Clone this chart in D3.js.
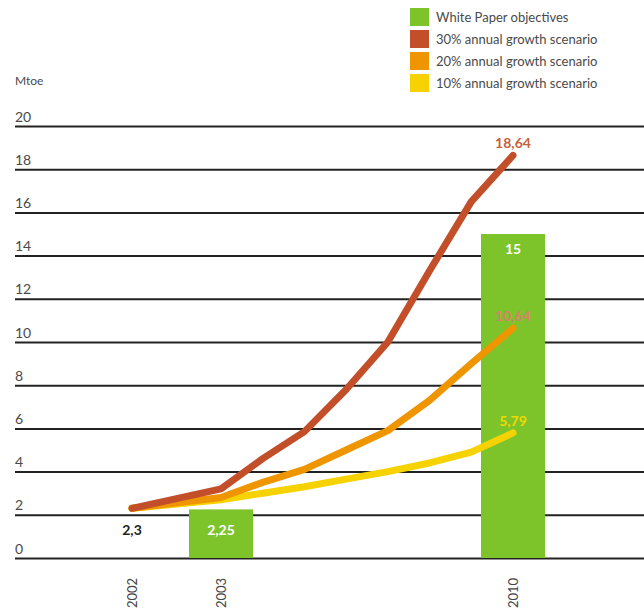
<!DOCTYPE html>
<html>
<head>
<meta charset="utf-8">
<script src="https://cdn.jsdelivr.net/npm/d3@7"></script>
<style>
  html, body { margin: 0; padding: 0; background: #fff; }
  svg { display: block; font-family: Lato, "Open Sans", sans-serif; }
</style>
</head>
<body>
<svg id="chart" width="644" height="613"></svg>
<script>
// Years along the axis and the three growth scenarios (Mtoe)
const years = [2002, 2003, 2004, 2005, 2006, 2007, 2008, 2009, 2010];
const growth30 = [2.3, 3.2, 4.6, 5.85, 7.8, 10.0, 13.3, 16.5, 18.64];
const growth20 = [2.3, 2.8, 3.5, 4.1, 5.0, 5.9, 7.3, 9.0, 10.64];
const growth10 = [2.3, 2.7, 3.0, 3.3, 3.65, 4.0, 4.4, 4.9, 5.79];

// White Paper objectives (bars)
const objectiveYears = [2003, 2010];
const objectiveValues = [2.25, 15];
const objectiveLabels = ["2,25", "15"];

// Axis ticks and labels
const yTicks = [0, 2, 4, 6, 8, 10, 12, 14, 16, 18, 20];
const xTickYears = [2002, 2003, 2010];
const endLabels = ["18,64", "10,64", "5,79"];
const startLabel = "2,3";

const legendLabels = [
  "White Paper objectives",
  "30% annual growth scenario",
  "20% annual growth scenario",
  "10% annual growth scenario"
];
const colors = {
  green: "#7dc42b",
  red: "#c24f29",
  orange: "#ee9500",
  yellow: "#f6d300"
};

const svg = d3.select("#chart");

const y = d3.scaleLinear().domain([0, 20]).range([558, 126]);
const x = d3.scaleLinear().domain([2002, 2003, 2010]).range([132, 221, 513]);

// Horizontal gridlines with value labels sitting on top of each line
const yAxis = d3.axisRight(y).tickValues(yTicks).tickSize(629).tickFormat(d3.format("d"));
const gy = svg.append("g").attr("transform", "translate(15,0)").call(yAxis);
gy.select(".domain").remove();
gy.selectAll(".tick line").attr("stroke", "#222").attr("stroke-width", 2);
gy.selectAll(".tick text")
  .attr("x", 0).attr("dy", -5).attr("text-anchor", "start")
  .attr("font-size", 14).attr("fill", "#4a4a4a")
  .attr("font-family", "Lato, sans-serif");

svg.append("text").attr("x", 15).attr("y", 85)
  .attr("font-size", 12).attr("fill", "#4a4a4a").text("Mtoe");

// Objective bars
const barW = 64;
svg.selectAll("rect.bar").data(objectiveValues).enter().append("rect")
  .attr("class", "bar")
  .attr("x", (d, i) => x(objectiveYears[i]) - barW / 2)
  .attr("y", d => y(d))
  .attr("width", barW)
  .attr("height", d => y(0) - y(d))
  .attr("fill", colors.green);

// Scenario lines
const line = d3.line().x((d, i) => x(years[i])).y(d => y(d));
[[growth10, colors.yellow], [growth20, colors.orange], [growth30, colors.red]].forEach(([vals, c]) => {
  svg.append("path").datum(vals)
    .attr("d", line)
    .attr("fill", "none")
    .attr("stroke", c)
    .attr("stroke-width", 7)
    .attr("stroke-linejoin", "round")
    .attr("stroke-linecap", "round");
});

// Value labels at the 2010 end of each line
const last = years.length - 1;
const endSeries = [
  [growth30[last], endLabels[0], "#c8603a"],
  [growth20[last], endLabels[1], "#d9826a"],
  [growth10[last], endLabels[2], "#f3d800"]
];
endSeries.forEach(([v, t, c]) => {
  svg.append("text")
    .attr("x", x(2010)).attr("y", y(v) - 7)
    .attr("text-anchor", "middle")
    .attr("font-size", 14).attr("font-weight", 700)
    .attr("fill", c).text(t);
});

// Bar value labels
objectiveValues.forEach((v, i) => {
  const ty = i === 0 ? y(0) - 23 : y(v) + 20;
  svg.append("text")
    .attr("x", x(objectiveYears[i])).attr("y", ty)
    .attr("text-anchor", "middle")
    .attr("font-size", 14).attr("font-weight", 700)
    .attr("fill", "#fff").text(objectiveLabels[i]);
});

// Starting value label
svg.append("text")
  .attr("x", x(2002)).attr("y", y(0) - 23)
  .attr("text-anchor", "middle")
  .attr("font-size", 14).attr("font-weight", 700)
  .attr("fill", "#222").text(startLabel);

// Rotated year labels
const xAxis = d3.axisBottom(x).tickValues(xTickYears).tickSize(0).tickFormat(d3.format("d"));
const gx = svg.append("g").attr("transform", `translate(0,${y(0)})`).call(xAxis);
gx.select(".domain").remove();
gx.selectAll(".tick text")
  .attr("transform", "rotate(-90)")
  .attr("x", -50).attr("y", 0).attr("dy", "0.35em")
  .attr("text-anchor", "start")
  .attr("font-size", 13).attr("fill", "#444")
  .attr("font-family", "Lato, sans-serif");

// Legend
const legendColors = [colors.green, colors.red, colors.orange, colors.yellow];
const lg = svg.append("g").attr("transform", "translate(410,8)");
legendLabels.forEach((t, i) => {
  lg.append("rect").attr("x", 0).attr("y", i * 22).attr("width", 19).attr("height", 18)
    .attr("fill", legendColors[i]);
  lg.append("text").attr("x", 26).attr("y", i * 22 + 14)
    .attr("font-size", 13).attr("fill", "#4a4a4a").text(t);
});
</script>
</body>
</html>
